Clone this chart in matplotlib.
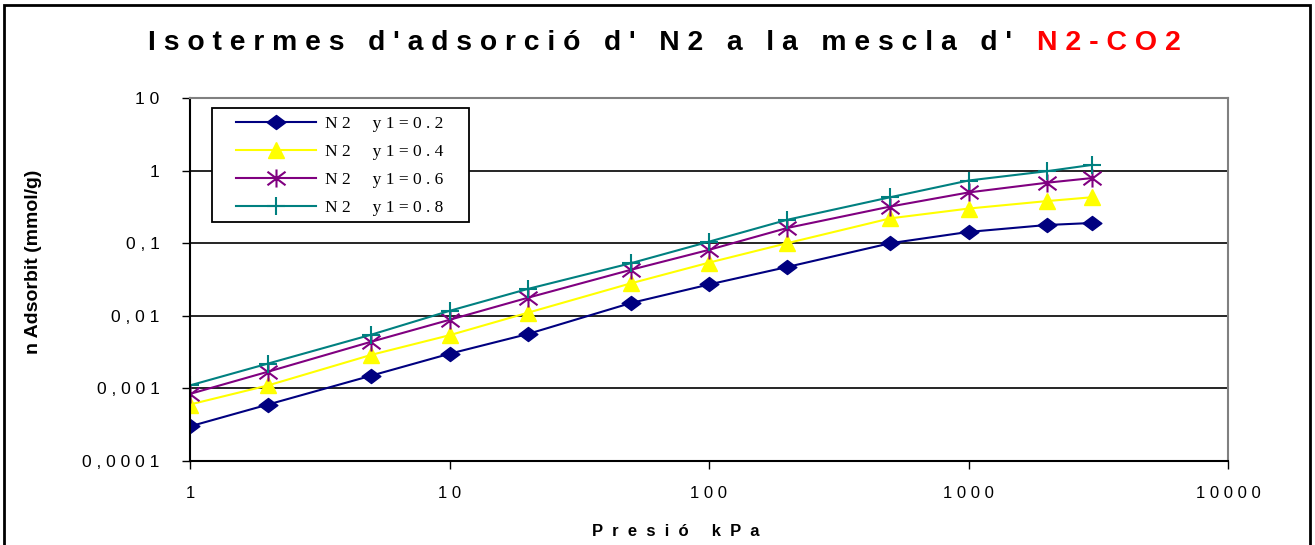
import matplotlib.pyplot as plt
from matplotlib.patches import Rectangle
from matplotlib.path import Path
from matplotlib.ticker import FixedLocator, NullLocator

# pressure points (kPa)
presio = [1, 2, 5, 10, 20, 50, 100, 200, 500, 1000, 2000, 3000]

# adsorbed N2 (mmol/g) for each N2 fraction in the feed
n_y02 = [0.0003, 0.0006, 0.0015, 0.003, 0.0056, 0.015, 0.027, 0.047, 0.10, 0.143, 0.178, 0.19]
n_y04 = [0.0006, 0.0011, 0.0029, 0.0054, 0.011, 0.028, 0.054, 0.10, 0.22, 0.30, 0.38, 0.43]
n_y06 = [0.00084, 0.0017, 0.0044, 0.0088, 0.0177, 0.043, 0.081, 0.162, 0.32, 0.50, 0.68, 0.79]
n_y08 = [0.0011, 0.0022, 0.0055, 0.0117, 0.0234, 0.053, 0.105, 0.21, 0.43, 0.73, 0.98, 1.2]

series_labels = ['N2  y1=0.2', 'N2  y1=0.4', 'N2  y1=0.6', 'N2  y1=0.8']

xticks = [1, 10, 100, 1000, 10000]
xtick_labels = ['1', '10', '100', '1000', '10000']
yticks = [0.0001, 0.001, 0.01, 0.1, 1, 10]
ytick_labels = ['0,0001', '0,001', '0,01', '0,1', '1', '10']

title_black = "Isotermes d'adsorció d' N2 a la mescla d'"
title_red = "N2-CO2"


def spaced(s, gap=' '):
    return gap.join(s)


sans = ['Liberation Sans', 'DejaVu Sans']
serif = ['Liberation Serif', 'DejaVu Serif']

# wide diamond and Excel-style asterisk markers
diamond = Path([(-1, 0), (0, 0.75), (1, 0), (0, -0.75), (-1, 0)],
               [Path.MOVETO, Path.LINETO, Path.LINETO, Path.LINETO, Path.CLOSEPOLY])
asterisk = Path([(0, -1), (0, 1), (-1, -0.75), (1, 0.75), (-1, 0.75), (1, -0.75)],
                [Path.MOVETO, Path.LINETO, Path.MOVETO, Path.LINETO, Path.MOVETO, Path.LINETO])

W, H = 1315, 545
fig = plt.figure(figsize=(W / 100, H / 100), dpi=100)
ax = fig.add_axes([190 / W, 1 - 461 / H, 1038 / W, 363 / H])


def ax_x(px):
    return (px - 190) / 1038


def ax_y(py):
    return (461 - py) / 363


# outer frame
fig.patches.append(Rectangle((4 / W, -0.1), 1306 / W, 1.1 - 5 / H,
                             transform=fig.transFigure, fill=False,
                             edgecolor='black', linewidth=2))

styles = [
    dict(color='#000080', marker=diamond, markersize=13.5),
    dict(color='#FFFF00', marker='^', markersize=12),
    dict(color='#800080', marker=asterisk, markersize=13, markeredgewidth=1.5),
    dict(color='#008080', marker='+', markersize=13, markeredgewidth=1.5),
]
for yv, lab, st in zip([n_y02, n_y04, n_y06, n_y08], series_labels, styles):
    ax.plot(presio, yv, linewidth=1.5, label=spaced(lab), **st)

ax.set_xscale('log')
ax.set_yscale('log')
ax.set_xlim(1, 10000)
ax.set_ylim(0.0001, 10)

ax.xaxis.set_major_locator(FixedLocator(xticks))
ax.xaxis.set_minor_locator(NullLocator())
ax.yaxis.set_major_locator(FixedLocator(yticks))
ax.yaxis.set_minor_locator(NullLocator())
ax.set_xticklabels([spaced(t) for t in xtick_labels], fontsize=12, family=sans)
ax.set_yticklabels([spaced(t) for t in ytick_labels], fontsize=12.5, family=sans)
ax.tick_params(direction='out', length=6, width=1)
ax.tick_params(axis='x', pad=12)
ax.tick_params(axis='y', pad=16)

ax.grid(axis='y', color='black', linewidth=1.2)
ax.set_axisbelow(True)
for side in ['top', 'right']:
    ax.spines[side].set_color('#808080')
    ax.spines[side].set_linewidth(1.5)
for side in ['left', 'bottom']:
    ax.spines[side].set_linewidth(1.5)

ax.set_xlabel(spaced('Presió kPa', '  '), fontsize=12, fontweight='bold',
              family=sans)
ax.xaxis.set_label_coords(ax_x(676), ax_y(531))
ax.xaxis.label.set_va('center')
ax.set_ylabel('n Adsorbit (mmol/g)', fontsize=14, fontweight='bold', family=sans)
ax.yaxis.set_label_coords(ax_x(34), ax_y(262))
ax.yaxis.label.set_va('center')

# legend box drawn separately so the side padding can be wider than the top one
ax.add_patch(Rectangle((ax_x(212), ax_y(222)), ax_x(469) - ax_x(212),
                       ax_y(108) - ax_y(222), transform=ax.transAxes,
                       facecolor='white', edgecolor='black', linewidth=1.3,
                       zorder=4.5, clip_on=False))
ax.legend(loc='center left', bbox_to_anchor=(ax_x(236), ax_y(166)),
          borderaxespad=0, borderpad=0, frameon=False,
          prop={'family': serif, 'size': 12.5},
          handlelength=4.6, labelspacing=0.68, handletextpad=0.52)

fig.text(148 / W, 1 - 43 / H, spaced(title_black), fontsize=20.3,
         fontweight='bold', family=sans, va='center', ha='left')
fig.text(1037 / W, 1 - 43 / H, spaced(title_red), fontsize=20.5,
         fontweight='bold', family=sans, va='center', ha='left', color='red')

fig.savefig('out.png', dpi=100)
